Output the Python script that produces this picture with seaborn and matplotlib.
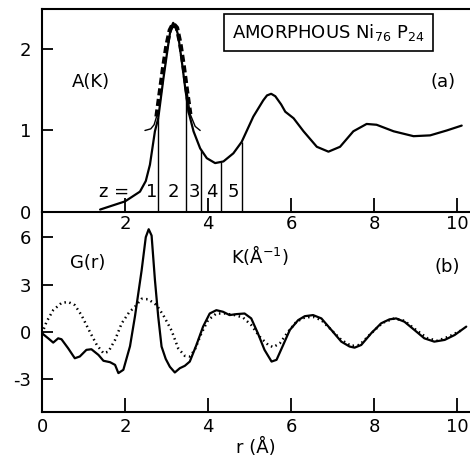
import numpy as np
import pandas as pd
import matplotlib
matplotlib.use("Agg")
import matplotlib.pyplot as plt
import seaborn as sns

# (a) A(K), solid curve
k_vals = [1.40, 2.00, 2.36, 2.50, 2.60, 2.72, 2.80, 2.92, 3.04, 3.10, 3.16, 3.22,
          3.28, 3.37, 3.45, 3.53, 3.65, 3.81, 3.97, 4.17, 4.37, 4.61, 4.81, 5.09,
          5.33, 5.42, 5.52, 5.62, 5.76, 5.86, 6.06, 6.30, 6.62, 6.90, 7.18, 7.50,
          7.82, 8.06, 8.47, 8.95, 9.35, 9.75, 10.11]
a_vals = [0.03, 0.13, 0.25, 0.38, 0.58, 0.99, 1.15, 1.62, 2.05, 2.25, 2.32, 2.27,
          2.17, 1.84, 1.52, 1.23, 0.99, 0.78, 0.66, 0.60, 0.62, 0.72, 0.86, 1.17,
          1.37, 1.43, 1.45, 1.42, 1.32, 1.23, 1.15, 0.99, 0.80, 0.74, 0.80, 0.99,
          1.08, 1.07, 0.99, 0.93, 0.94, 1.00, 1.06]
# gaussian fit (dashed)
kfit = [2.48, 2.62, 2.70, 2.76, 2.84, 2.92, 3.00, 3.08, 3.16, 3.25, 3.33, 3.41,
        3.49, 3.57, 3.69, 3.81]
afit = [1.00, 1.02, 1.07, 1.17, 1.47, 1.77, 2.04, 2.23, 2.31, 2.26, 2.07, 1.80,
        1.49, 1.20, 1.05, 1.00]
# boundaries of the z regions
z_bounds = [2.80, 3.47, 3.83, 4.31, 4.81]
z_labels = ["1", "2", "3", "4", "5"]
z_pos = [2.64, 3.16, 3.66, 4.09, 4.60]

# (b) G(r)
r_solid = [0.00, 0.15, 0.27, 0.39, 0.47, 0.63, 0.79, 0.91, 1.07, 1.19, 1.36, 1.48,
           1.64, 1.76, 1.84, 1.96, 2.12, 2.24, 2.40, 2.50, 2.57, 2.64, 2.72, 2.80,
           2.88, 2.98, 3.08, 3.20, 3.32, 3.44, 3.56, 3.72, 3.88, 4.04, 4.20, 4.36,
           4.52, 4.68, 4.88, 5.04, 5.20, 5.36, 5.53, 5.65, 5.81, 5.97, 6.17, 6.33,
           6.53, 6.73, 6.97, 7.21, 7.41, 7.53, 7.69, 7.93, 8.17, 8.37, 8.53, 8.73,
           8.97, 9.21, 9.45, 9.70, 9.94, 10.22]
g_solid = [-0.08, -0.40, -0.67, -0.40, -0.46, -1.03, -1.66, -1.55, -1.13, -1.09,
           -1.45, -1.82, -1.91, -2.08, -2.60, -2.39, -0.90, 1.00, 3.90, 6.00, 6.50,
           6.10, 3.30, 0.96, -0.92, -1.70, -2.20, -2.56, -2.29, -2.14, -1.87, -0.82,
           0.34, 1.17, 1.38, 1.28, 1.07, 1.13, 1.17, 0.86, -0.08, -1.13, -1.87,
           -1.76, -0.82, 0.13, 0.75, 1.00, 1.07, 0.86, 0.13, -0.61, -0.92, -0.99,
           -0.82, -0.08, 0.55, 0.80, 0.86, 0.65, 0.13, -0.40, -0.61, -0.50, -0.19,
           0.34]
r_dot = [0.00, 0.11, 0.27, 0.47, 0.63, 0.79, 0.95, 1.15, 1.32, 1.48, 1.60, 1.76,
         1.92, 2.10, 2.24, 2.40, 2.56, 2.76, 2.92, 3.12, 3.28, 3.44, 3.56, 3.68,
         3.84, 4.00, 4.20, 4.40, 4.64, 4.84, 5.04, 5.24, 5.45, 5.57, 5.73, 5.93,
         6.13, 6.33, 6.53, 6.73, 6.97, 7.21, 7.45, 7.65, 7.93, 8.21, 8.49, 8.73,
         9.01, 9.29, 9.53, 9.80, 10.12]
g_dot = [-0.10, 0.65, 1.38, 1.84, 1.90, 1.70, 1.07, 0.02, -0.82, -1.34, -1.24,
         -0.50, 0.55, 1.25, 1.60, 2.10, 2.07, 1.70, 1.07, 0.10, -1.03, -1.51,
         -1.55, -1.13, -0.08, 0.75, 1.17, 1.17, 1.07, 0.92, 0.44, -0.29, -0.82,
         -0.96, -0.71, 0.02, 0.65, 0.92, 0.96, 0.75, 0.13, -0.50, -0.88, -0.82,
         -0.08, 0.59, 0.86, 0.71, 0.13, -0.40, -0.55, -0.29, 0.13]

sns.set_style("ticks")
plt.rcParams["font.family"] = ["DejaVu Sans"]
plt.rcParams["mathtext.fontset"] = "dejavusans"
plt.rcParams["axes.unicode_minus"] = False
plt.rcParams["text.color"] = "black"
plt.rcParams["xtick.color"] = "black"
plt.rcParams["ytick.color"] = "black"
plt.rcParams["axes.edgecolor"] = "black"
plt.rcParams["axes.labelcolor"] = "black"

fig = plt.figure(figsize=(4.70, 4.66), dpi=100)
ax2 = fig.add_axes([42 / 470, 1 - 412 / 466, 428 / 470, 200 / 466])
ax1 = fig.add_axes([42 / 470, 1 - 212 / 466, 428 / 470, 203 / 466])
ax1.patch.set_alpha(0)
ax2.patch.set_alpha(0)

lw = 1.6
fs = 13

# ---- panel (a)
sns.lineplot(x=k_vals, y=a_vals, ax=ax1, color="black", lw=lw, sort=False)
fit = pd.DataFrame({"K": kfit, "A": afit})
core = fit[fit["A"] > 1.1]
sns.lineplot(data=fit.iloc[:4], x="K", y="A", ax=ax1, color="black", lw=1.0, sort=False)
sns.lineplot(data=fit.iloc[-4:], x="K", y="A", ax=ax1, color="black", lw=1.0, sort=False)
sns.lineplot(data=core, x="K", y="A", ax=ax1, color="black", lw=3.2,
             linestyle=(0, (1.6, 0.8)), sort=False)
tops = np.interp(z_bounds, k_vals, a_vals)
ax1.vlines(z_bounds, 0, tops, color="black", lw=1.0)
ax1.text(1.74, 0.25, "z =", fontsize=fs, ha="center", va="center")
for p, lab in zip(z_pos, z_labels):
    ax1.text(p, 0.25, lab, fontsize=fs, ha="center", va="center")
ax1.text(1.18, 1.6, "A(K)", fontsize=fs, ha="center", va="center")
ax1.text(9.65, 1.6, "(a)", fontsize=fs, ha="center", va="center")
ax1.text(6.9, 2.2, "AMORPHOUS Ni$_{76}$ P$_{24}$", fontsize=fs, ha="center", va="center",
         bbox=dict(boxstyle="square,pad=0.45", fc="white", ec="black", lw=1.2))

ax1.set_xlim(0, 10.31)
ax1.set_ylim(0, 2.49)
ax1.set_xticks([2, 4, 6, 8, 10])
ax1.set_yticks([0, 1, 2])
ax1.tick_params(axis="x", direction="in", length=10, width=1.3, labelsize=fs, pad=2)
ax1.tick_params(axis="y", direction="in", length=8, width=1.3, labelsize=fs, pad=8)
ax1.spines["right"].set_visible(False)
ax1.set_ylabel("")
ax1.set_xlabel("")

# ---- panel (b)
sns.lineplot(x=r_solid, y=g_solid, ax=ax2, color="black", lw=lw, sort=False)
sns.lineplot(x=r_dot, y=g_dot, ax=ax2, color="black", lw=1.8,
             linestyle=(0, (0.6, 1.4)), sort=False)
ax2.text(1.1, 4.35, "G(r)", fontsize=fs, ha="center", va="center")
ax2.text(9.75, 4.1, "(b)", fontsize=fs, ha="center", va="center")
ax2.text(5.25, 4.85, "K(Å$^{-1}$)", fontsize=fs, ha="center", va="center")

ax2.set_xlim(0, 10.31)
ax2.set_ylim(-5.06, 7.59)
ax2.set_xticks([0, 2, 4, 6, 8, 10])
ax2.set_yticks([-3, 0, 3, 6])
ax2.tick_params(axis="x", direction="in", length=10, width=1.3, labelsize=fs, pad=4)
ax2.tick_params(axis="y", direction="in", length=8, width=1.3, labelsize=fs, pad=8)
ax2.spines["right"].set_visible(False)
ax2.spines["top"].set_visible(False)
ax2.set_xlabel("r (Å)", fontsize=fs, labelpad=2)
ax2.set_ylabel("")

for ax in (ax1, ax2):
    for s in ax.spines.values():
        s.set_linewidth(1.5)

fig.savefig("out.png", dpi=100)
